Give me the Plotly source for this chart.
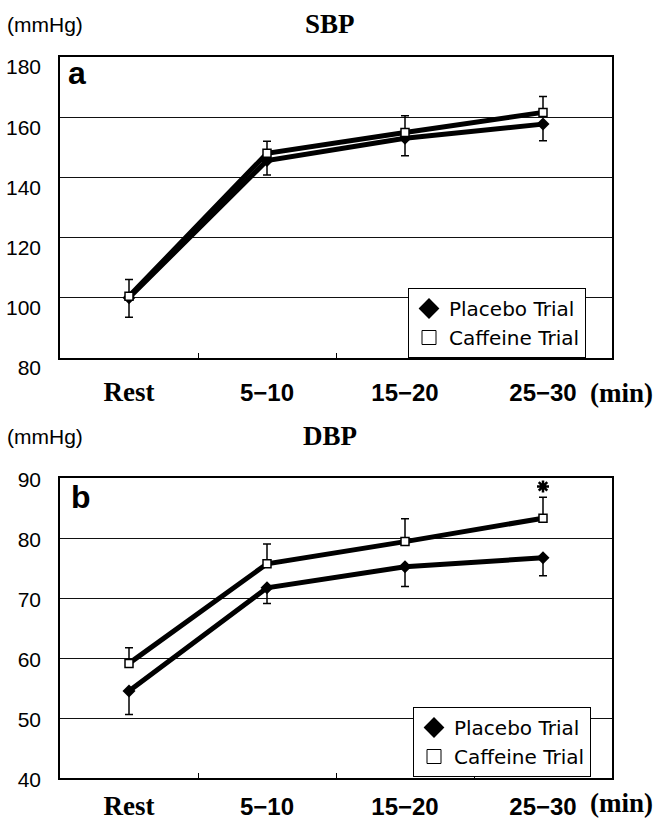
import plotly.graph_objects as go

# ---------------- data ----------------
categories = ["Rest", "5\u221210", "15\u221220", "25\u221230"]

sbp_placebo = [100.0, 145.6, 153.0, 157.7]
sbp_placebo_err = [6.5, 4.8, 5.8, 5.5]          # lower SD bars
sbp_caffeine = [100.5, 148.0, 154.9, 161.6]
sbp_caffeine_err = [5.6, 4.0, 5.6, 5.3]         # upper SD bars

dbp_placebo = [54.5, 71.7, 75.2, 76.7]
dbp_placebo_err = [3.9, 2.6, 3.3, 3.0]
dbp_caffeine = [59.1, 75.7, 79.4, 83.3]
dbp_caffeine_err = [2.6, 3.3, 3.8, 3.5]

dbp_sig_category = ["25\u221230"]
dbp_sig_value = [88.6]

sbp_ticks = [80, 100, 120, 140, 160, 180]
dbp_ticks = [40, 50, 60, 70, 80, 90]

# ---------------- styling helpers ----------------
SANS = "Liberation Sans, Arial, sans-serif"
SERIF = "Liberation Serif, Times New Roman, serif"
LEGSANS = "DejaVu Sans, Liberation Sans, sans-serif"

W, H = 661, 824
L, R, T, B = 60, 49, 57, 46
PW = W - L - R
PH = H - T - B


def px_x(px):
    return (px - L) / PW


def px_y(py):
    return (H - B - py) / PH


top_dom = [px_y(358), 1.0]
bot_dom = [0.0, px_y(478)]


def ticktext(labels):
    out = []
    for lab in labels:
        if lab == "Rest":
            out.append('<span style="font-family:\'Liberation Serif\', serif;font-weight:bold;font-size:27px">'
                       + lab + '</span>')
        else:
            out.append('<b>' + lab + '</b>')
    return out


fig = go.Figure()


def add_panel(xa, ya, leg, plac, plac_err, caf, caf_err):
    zeros = [0] * len(categories)
    fig.add_trace(go.Scatter(x=categories, y=plac, mode="lines", xaxis=xa, yaxis=ya,
                             line=dict(color="black", width=5), showlegend=False, hoverinfo="skip"))
    fig.add_trace(go.Scatter(x=categories, y=caf, mode="lines", xaxis=xa, yaxis=ya,
                             line=dict(color="black", width=5), showlegend=False, hoverinfo="skip"))
    fig.add_trace(go.Scatter(x=categories, y=plac, mode="markers", xaxis=xa, yaxis=ya,
                             marker=dict(symbol="diamond", size=10, color="black"),
                             error_y=dict(type="data", symmetric=False, array=zeros, arrayminus=plac_err,
                                          color="black", thickness=1.5, width=4),
                             showlegend=False))
    fig.add_trace(go.Scatter(x=categories, y=caf, mode="markers", xaxis=xa, yaxis=ya,
                             marker=dict(symbol="square", size=8, color="white",
                                         line=dict(color="black", width=1.5)),
                             error_y=dict(type="data", symmetric=False, array=caf_err, arrayminus=zeros,
                                          color="black", thickness=1.5, width=4),
                             showlegend=False))
    fig.add_trace(go.Scatter(x=[None], y=[None], mode="markers", xaxis=xa, yaxis=ya,
                             marker=dict(symbol="diamond", size=16, color="black"),
                             name="Placebo Trial", legend=leg))
    fig.add_trace(go.Scatter(x=[None], y=[None], mode="markers", xaxis=xa, yaxis=ya,
                             marker=dict(symbol="square", size=14, color="white",
                                         line=dict(color="black", width=1)),
                             name="Caffeine Trial", legend=leg))


add_panel("x", "y", "legend", sbp_placebo, sbp_placebo_err, sbp_caffeine, sbp_caffeine_err)
add_panel("x2", "y2", "legend2", dbp_placebo, dbp_placebo_err, dbp_caffeine, dbp_caffeine_err)

fig.add_trace(go.Scatter(x=dbp_sig_category, y=dbp_sig_value, mode="markers", xaxis="x2", yaxis="y2",
                         marker=dict(symbol="asterisk-open", size=10, color="black",
                                     line=dict(color="black", width=2.5)),
                         showlegend=False, hoverinfo="skip"))

xaxis_common = dict(type="category", categoryorder="array", categoryarray=categories,
                    range=[-0.5, 3.5], tickson="boundaries", ticks="inside", ticklen=5,
                    tickcolor="black", tickwidth=1, showgrid=False, showline=True,
                    linecolor="black", linewidth=1.5, mirror=True, zeroline=False,
                    tickmode="array", tickvals=categories, ticktext=ticktext(categories),
                    tickfont=dict(family=SANS, size=24, color="black"), automargin=False)
yaxis_common = dict(showgrid=True, gridcolor="#111111", gridwidth=1, showline=True,
                    linecolor="black", linewidth=1.5, mirror=True, zeroline=False,
                    ticks="", tickfont=dict(family=SANS, size=21, color="black"),
                    ticklabelstandoff=13, automargin=False)

legend_common = dict(xanchor="left", yanchor="top", bgcolor="white", bordercolor="black",
                     borderwidth=1, font=dict(family=LEGSANS, size=20, color="black"),
                     tracegroupgap=0)

fig.update_layout(
    width=W, height=H,
    margin=dict(l=L, r=R, t=T, b=B, autoexpand=False),
    paper_bgcolor="white", plot_bgcolor="white",
    xaxis=dict(xaxis_common, domain=[0, 1], anchor="y", ticklabelstandoff=12),
    yaxis=dict(yaxis_common, domain=top_dom, anchor="x", range=[80, 180],
               tickvals=sbp_ticks, ticklabelshift=10),
    xaxis2=dict(xaxis_common, domain=[0, 1], anchor="y2", ticklabelstandoff=6),
    yaxis2=dict(yaxis_common, domain=bot_dom, anchor="x2", range=[40, 90],
                tickvals=dbp_ticks, ticklabelshift=2),
    legend=dict(legend_common, x=px_x(408), y=px_y(288)),
    legend2=dict(legend_common, x=px_x(413), y=px_y(707)),
    showlegend=True,
)

ann = []
for ytxt, title in [(24, "SBP"), (436, "DBP")]:
    ann.append(dict(text="(mmHg)", xref="paper", yref="paper", x=px_x(5), y=px_y(ytxt),
                    xanchor="left", yanchor="middle", showarrow=False,
                    font=dict(family=SANS, size=21, color="black")))
    ann.append(dict(text="<b>" + title + "</b>", xref="paper", yref="paper", x=px_x(330), y=px_y(ytxt),
                    xanchor="center", yanchor="middle", showarrow=False,
                    font=dict(family=SERIF, size=27, color="black")))
for ytxt in [393, 803]:
    ann.append(dict(text="<b>(min)</b>", xref="paper", yref="paper", x=px_x(588), y=px_y(ytxt),
                    xanchor="left", yanchor="middle", showarrow=False,
                    font=dict(family=SERIF, size=27, color="black")))
ann.append(dict(text="<b>a</b>", xref="paper", yref="paper", x=px_x(66), y=px_y(73),
                xanchor="left", yanchor="middle", showarrow=False,
                font=dict(family=SANS, size=32, color="black")))
ann.append(dict(text="<b>b</b>", xref="paper", yref="paper", x=px_x(69), y=px_y(497),
                xanchor="left", yanchor="middle", showarrow=False,
                font=dict(family=SANS, size=32, color="black")))
fig.update_layout(annotations=ann)

fig.write_html("out.html", config={"displayModeBar": False},
               post_script="document.body.style.margin='0';document.body.style.padding='0';")
